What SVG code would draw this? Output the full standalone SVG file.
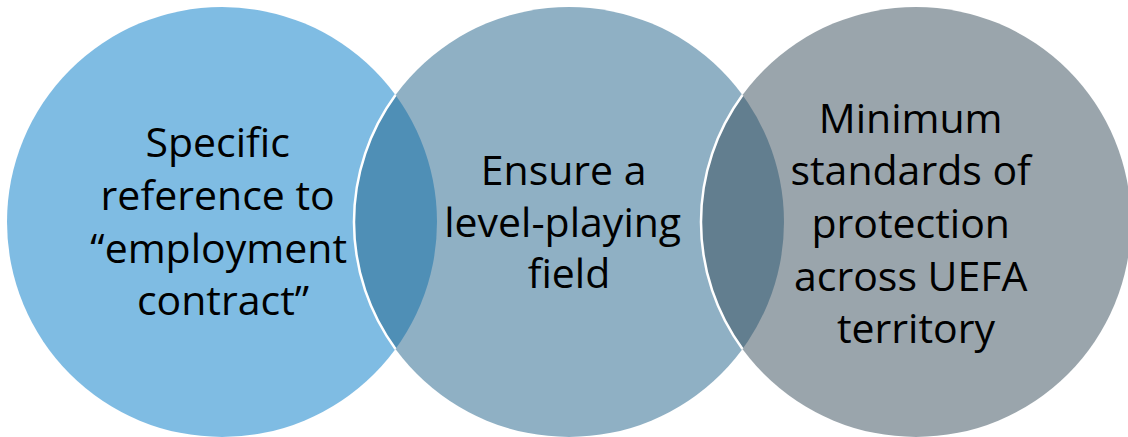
<svg xmlns="http://www.w3.org/2000/svg" width="1128" height="437" viewBox="0 0 1128 437">
  <style>
    .c1 { fill: #0079c7; fill-opacity: 0.5; }
    .c2 { fill: #1f6189; fill-opacity: 0.5; }
    .c3 { fill: #354b59; fill-opacity: 0.5; }
    .edge { fill: none; stroke: #ffffff; stroke-width: 2.5; }
    .lbl { font-family: "Open Sans", "Noto Sans", "DejaVu Sans", sans-serif; font-size: 41px; fill: #000000; text-anchor: middle; }
  </style>
  <rect width="1128" height="437" fill="#ffffff"/>
  <g id="node-1">
    <circle class="c1" cx="222" cy="222" r="215"/>
    <text class="lbl">
      <tspan x="223" y="157">Specific</tspan>
      <tspan x="223" y="210">reference to</tspan>
      <tspan x="224" y="263">“employment</tspan>
      <tspan x="223" y="315">contract”</tspan>
    </text>
  </g>
  <g id="node-2">
    <circle class="c2" cx="569" cy="222" r="215"/>
    <path class="edge" d="M 395.5 95 A 215 215 0 0 0 395.5 349"/>
    <text class="lbl">
      <tspan x="569" y="185">Ensure a</tspan>
      <tspan x="568" y="237">level-playing</tspan>
      <tspan x="569" y="288">field</tspan>
    </text>
  </g>
  <g id="node-3">
    <circle class="c3" cx="916" cy="222" r="215"/>
    <path class="edge" d="M 742.5 95 A 215 215 0 0 0 742.5 349"/>
    <text class="lbl">
      <tspan x="916" y="133">Minimum</tspan>
      <tspan x="916" y="185">standards of</tspan>
      <tspan x="916" y="238">protection</tspan>
      <tspan x="916" y="291">across UEFA</tspan>
      <tspan x="916" y="343">territory</tspan>
    </text>
  </g>
  <g id="connectors"></g>
</svg>
